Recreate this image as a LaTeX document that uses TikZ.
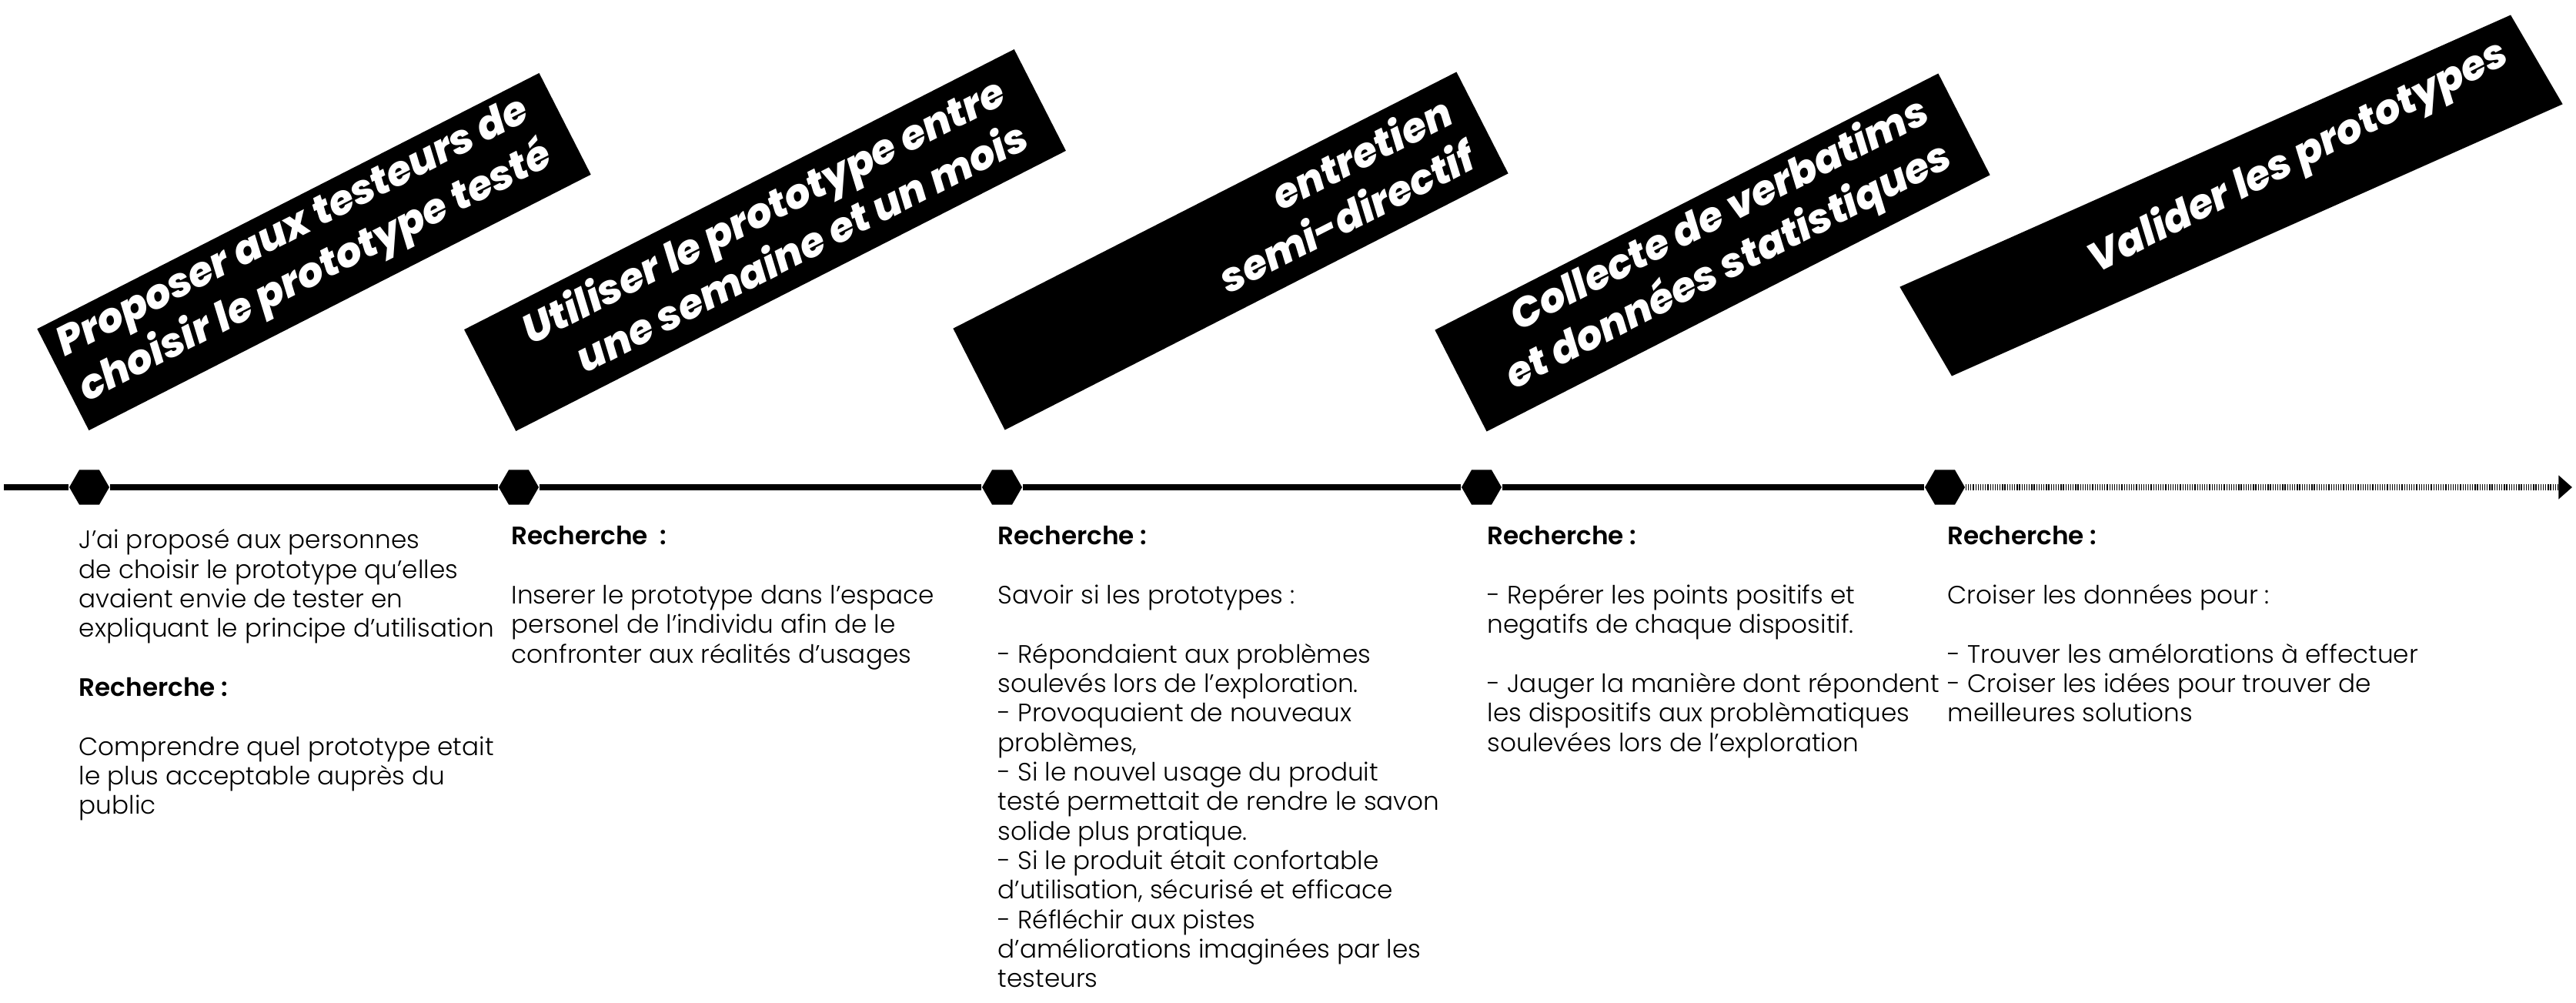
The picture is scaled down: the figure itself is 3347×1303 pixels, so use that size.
\documentclass[tikz,border=0pt]{standalone}
\usepackage{fontspec}
\setmainfont{Poppins Light}[BoldFont={Poppins SemiBold}]
\newfontfamily\bannerfont{Poppins ExtraBold Italic}
\usetikzlibrary{positioning,arrows.meta,shapes.geometric}

\begin{document}
\begin{tikzpicture}[
  x=0.01cm, y=-0.01cm,
  banner/.style={fill=black},
  btxt/.style={text=white, font=\fontsize{15}{18.5}\selectfont\bannerfont, align=right, inner sep=0pt},
  hexa/.style={regular polygon, regular polygon sides=6, fill=black, minimum size=0.52cm, inner sep=0pt},
  col/.style={font=\fontsize{9.3}{10.9}\selectfont, align=left, anchor=north west, inner sep=0pt},
  tl/.style={line width=2.1pt},
]
\fill[white] (0,0) rectangle (3347,1303);
\useasboundingbox (0,0) rectangle (3347,1303);

% banners
\begin{scope}[shift={(408,327)}, rotate=27, transform shape]
  \fill[banner] (-366,-74) rectangle (366,74);
  \node[btxt, anchor=east] (b1) at (331,-5) {Proposer aux testeurs de\\choisir le prototype testé};
\end{scope}
\begin{scope}[shift={(994,312)}, rotate=27, transform shape]
  \fill[banner] (-401,-74) rectangle (401,74);
  \node[btxt, anchor=east] (b2) at (364,-5) {Utiliser le prototype entre\\une semaine et un mois};
\end{scope}
\begin{scope}[shift={(1599,326)}, rotate=27, transform shape]
  \fill[banner] (-367,-74) rectangle (367,74);
  \node[btxt, anchor=east] (b3) at (337,-5) {entretien\\semi-directif};
\end{scope}
\begin{scope}[shift={(2225,328)}, rotate=27, transform shape]
  \fill[banner] (-367,-74) rectangle (367,74);
  \node[btxt, anchor=east] (b4) at (332,-5) {Collecte de verbatims\\et données statistiques};
\end{scope}
\begin{scope}[shift={(2899,254)}, xscale=1.145, rotate=27]
  \fill[banner] (-389,-65) rectangle (389,65);
  \node[btxt, anchor=base east, rotate=27] (b5) at (362,-10) {Valider les prototypes};
\end{scope}

% timeline
\coordinate (start) at (5,633);
\node[hexa] (h1) at (116,633) {};
\node[hexa] (h2) at (674,633) {};
\node[hexa] (h3) at (1302,633) {};
\node[hexa] (h4) at (1925,633) {};
\node[hexa] (h5) at (2527,633) {};
\coordinate (end) at (3342,633);
\draw[tl] (start) -- (h1) -- (h2) -- (h3) -- (h4) -- (h5);
\draw[tl, dash pattern=on 0.35pt off 0.55pt, -{Triangle[length=5pt,width=8.5pt]}] (h5) -- (end);

% texts
\node[col] (c1) at (102,687) {J’ai proposé aux personnes\\
de choisir le prototype qu’elles\\
avaient envie de tester en\\
expliquant le principe d’utilisation\\[\baselineskip]
\textbf{Recherche :}\\[\baselineskip]
Comprendre quel prototype etait\\
le plus acceptable auprès du\\
public};
\node[col] (c2) at (664,683) {\textbf{Recherche~~:}\\[\baselineskip]
Inserer le prototype dans l’espace\\
personel de l’individu afin de le\\
confronter aux réalités d’usages};
\node[col] (c3) at (1296,683) {\textbf{Recherche :}\\[\baselineskip]
Savoir si les prototypes :\\[\baselineskip]
- Répondaient aux problèmes\\
soulevés lors de l’exploration.\\
- Provoquaient de nouveaux\\
problèmes,\\
- Si le nouvel usage du produit\\
testé permettait de rendre le savon\\
solide plus pratique.\\
- Si le produit était confortable\\
d’utilisation, sécurisé et efficace\\
- Réfléchir aux pistes\\
d’améliorations imaginées par les\\
testeurs};
\node[col] (c4) at (1932,683) {\textbf{Recherche :}\\[\baselineskip]
- Repérer les points positifs et\\
negatifs de chaque dispositif.\\[\baselineskip]
- Jauger la manière dont répondent\\
les dispositifs aux problèmatiques\\
soulevées lors de l’exploration};
\node[col] (c5) at (2530,683) {\textbf{Recherche :}\\[\baselineskip]
Croiser les données pour :\\[\baselineskip]
- Trouver les amélorations à effectuer\\
- Croiser les idées pour trouver de\\
meilleures solutions};
\end{tikzpicture}
\end{document}
